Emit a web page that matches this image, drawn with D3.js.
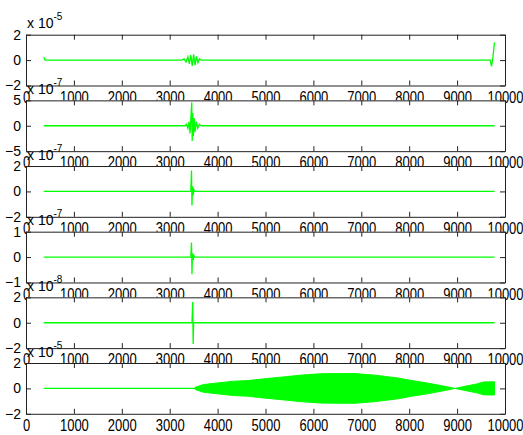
<!DOCTYPE html>
<html>
<head>
<meta charset="utf-8">
<script src="https://cdn.jsdelivr.net/npm/d3@7"></script>
<style>
  body { margin: 0; background: #fff; }
  text { font-family: "Liberation Sans", Arial, sans-serif; fill: #000; }
</style>
</head>
<body>
<svg id="chart"></svg>
<script>
// x axis ticks (shared by all six subplots)
const xTickValues = [0, 1000, 2000, 3000, 4000, 5000, 6000, 7000, 8000, 9000, 10000];

// y limits and the "x 10^n" exponent of each subplot
const yLimits = [2, 5, 2, 1, 2, 2];
const yExponents = [-5, -7, -7, -7, -8, -5];

// traces, [sample, value in units of the exponent]
const trace1 = [[370, 0.25], [400, 0], [3250, 0], [3300, 0.1], [3340, -0.15], [3380, 0.25], [3410, -0.3],
  [3440, 0.4], [3470, -0.45], [3500, 0.45], [3530, -0.4], [3560, 0.3], [3590, -0.2], [3620, 0.1],
  [3660, 0], [9690, 0], [9720, -0.5], [9750, 0.3], [9780, 1.4]];
const trace2 = [[370, 0], [3320, 0], [3350, 0.3], [3380, -0.5], [3405, 0.8], [3425, -1.5], [3445, 2],
  [3460, 4.6], [3470, -3], [3480, 2.5], [3495, -2], [3510, 1.5], [3530, -1.2], [3555, 0.8],
  [3585, -0.5], [3620, 0.3], [3660, 0], [9780, 0]];
const trace3 = [[370, 0], [3440, 0], [3455, 1.65], [3465, -1.1], [3475, 0.4], [3490, -0.3],
  [3505, 0.15], [3525, 0], [9780, 0]];
const trace4 = [[370, 0], [3440, 0], [3455, 0.57], [3465, -0.68], [3475, 0.15], [3490, -0.12],
  [3505, 0.06], [3525, 0], [9780, 0]];
const trace5 = [[370, 0], [3465, 0], [3480, 1.63], [3490, -1.67], [3500, 0], [9780, 0]];
const trace6 = [[370, 0], [3530, 0]];

// envelope of the dense oscillation in the last subplot
const env6X = [3530, 3700, 4000, 4320, 4640, 4950, 5450, 5720, 6140, 6500, 6870, 7290, 7740,
  8020, 8370, 8640, 8960, 9130, 9410, 9560, 9780];
const env6Amp = [0.08, 0.3, 0.43, 0.56, 0.62, 0.75, 0.93, 1.04, 1.15, 1.17, 1.17, 1.04, 0.83,
  0.64, 0.43, 0.24, 0.0, 0.14, 0.35, 0.51, 0.52];

const traces = [trace1, trace2, trace3, trace4, trace5, trace6];

const config = {
  width: 523, height: 435,
  left: 26, right: 505,
  firstTop: 34.7, step: 65.66, panelHeight: 50.8,
  tick: 5, green: '#00ff00'
};

const svg = d3.select('#chart')
  .attr('width', config.width)
  .attr('height', config.height);

const xScale = d3.scaleLinear()
  .domain([0, 10000])
  .range([config.left, config.right]);

traces.forEach((trace, i) => {
  const top = config.firstTop + i * config.step;
  const bottom = top + config.panelHeight;
  const lim = yLimits[i];

  const yScale = d3.scaleLinear()
    .domain([-lim, lim])
    .range([bottom, top]);

  const g = svg.append('g');

  // white axes background covers the tick labels of the subplot above
  g.append('rect')
    .attr('x', config.left)
    .attr('y', top)
    .attr('width', config.right - config.left)
    .attr('height', config.panelHeight)
    .attr('fill', '#fff');

  if (i === 5) {
    const env = env6X.map((x, k) => ({ x: x, a: env6Amp[k] }));
    g.append('path')
      .datum(env)
      .attr('fill', config.green)
      .attr('stroke', config.green)
      .attr('stroke-width', 1)
      .attr('d', d3.area()
        .x(d => xScale(d.x))
        .y0(d => yScale(-d.a))
        .y1(d => yScale(d.a)));
  }

  g.append('path')
    .datum(trace)
    .attr('fill', 'none')
    .attr('stroke', config.green)
    .attr('stroke-width', 1.3)
    .attr('d', d3.line()
      .x(d => xScale(d[0]))
      .y(d => yScale(d[1])));

  const yTicks = [-lim, 0, lim];

  // bottom axis with labels, ticks pointing inward
  g.append('g')
    .attr('class', 'x-axis')
    .attr('transform', `translate(0,${bottom})`)
    .call(d3.axisBottom(xScale).tickValues(xTickValues).tickSizeInner(-config.tick)
      .tickSizeOuter(0).tickPadding(5).tickFormat(d3.format('d')));

  // top axis, ticks only
  g.append('g')
    .attr('transform', `translate(0,${top})`)
    .call(d3.axisTop(xScale).tickValues(xTickValues).tickSizeInner(-config.tick)
      .tickSizeOuter(0).tickFormat(''));

  // left axis with labels
  g.append('g')
    .attr('class', 'y-axis')
    .attr('transform', `translate(${config.left},0)`)
    .call(d3.axisLeft(yScale).tickValues(yTicks).tickSizeInner(-config.tick)
      .tickSizeOuter(0).tickPadding(5).tickFormat(d3.format('d')));

  // right axis, ticks only
  g.append('g')
    .attr('transform', `translate(${config.right},0)`)
    .call(d3.axisRight(yScale).tickValues(yTicks).tickSizeInner(-config.tick)
      .tickSizeOuter(0).tickFormat(''));

  // exponent label above the top-left corner
  const expo = g.append('text')
    .attr('x', config.left + 1)
    .attr('y', top - 6.5)
    .style('font-size', '14px');
  expo.append('tspan').text('x 10');
  expo.append('tspan')
    .attr('dy', -8)
    .style('font-size', '10px')
    .text(yExponents[i]);
});

svg.selectAll('.domain, .tick line')
  .attr('stroke', '#222')
  .attr('stroke-width', 1);

// x labels look a little narrow and tall in the original
svg.selectAll('.x-axis .tick text')
  .style('font-size', '13px')
  .attr('transform', 'scale(1,1.2)')
  .attr('fill', '#000');

svg.selectAll('.y-axis .tick text')
  .style('font-size', '14px')
  .attr('fill', '#000');
</script>
</body>
</html>
